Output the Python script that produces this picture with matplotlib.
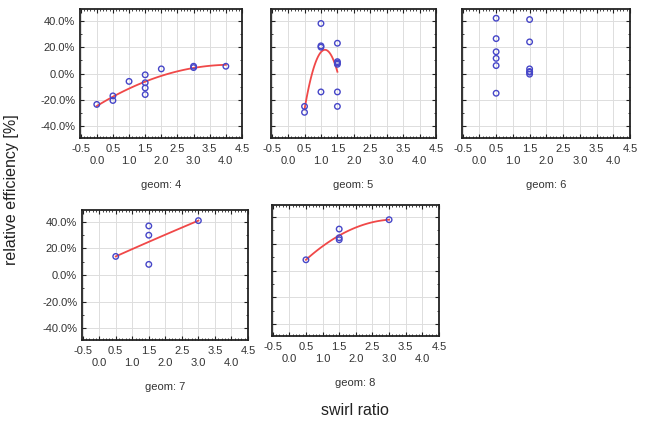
import numpy as np
import matplotlib
matplotlib.use("Agg")
import matplotlib.pyplot as plt
from matplotlib.ticker import MultipleLocator, FuncFormatter

plt.rcParams['font.family'] = ['Liberation Sans', 'DejaVu Sans']

# swirl ratio (x) and relative efficiency in % (y) per geometry
geom4_x = [0.0, 0.5, 0.5, 1.0, 1.5, 1.5, 1.5, 1.5, 2.0, 3.0, 3.0, 4.0]
geom4_y = [-23.5, -17, -20.5, -6, -1, -7, -11, -16, 3.5, 4.5, 5.5, 5.5]

geom5_x = [0.5, 0.5, 1.0, 1.0, 1.0, 1.0, 1.5, 1.5, 1.5, 1.5, 1.5, 1.5]
geom5_y = [-25, -29.5, 38, 21, 20, -14, 23, 9, 8, 7, -14, -25]

geom6_x = [0.5, 0.5, 0.5, 0.5, 0.5, 0.5, 1.5, 1.5, 1.5, 1.5, 1.5, 1.5]
geom6_y = [42, 26.5, 16.5, 11.5, 6, -15, 41, 24, 3.5, 1.5, -0.5, 1]

geom7_x = [0.5, 1.5, 1.5, 1.5, 3.0]
geom7_y = [14, 37, 30, 8, 41]

geom8_x = [0.5, 1.5, 1.5, 1.5, 3.0]
geom8_y = [8, 31, 24.5, 23, 38]

panels = [
    ("geom: 4", geom4_x, geom4_y, True, True),
    ("geom: 5", geom5_x, geom5_y, True, False),
    ("geom: 6", geom6_x, geom6_y, False, False),
    ("geom: 7", geom7_x, geom7_y, True, True),
    ("geom: 8", geom8_x, geom8_y, True, False),
]

W, H = 646, 423
# axes boxes in pixels: left, top, right, bottom
boxes = [
    (80, 9, 242, 138),
    (271, 9, 436, 138),
    (462, 9, 630, 138),
    (82, 210, 248, 340),
    (272, 205, 439, 336),
]

fig = plt.figure(figsize=(W / 100, H / 100), dpi=100)

xticks = np.arange(-0.5, 4.51, 0.5)
xlabels = []
for t in xticks:
    if abs(t - round(t)) < 1e-9:
        xlabels.append("\n%.1f" % t)
    else:
        xlabels.append("%.1f" % t)

for (title, xs, ys, fit, ylab), (l, t, r, b) in zip(panels, boxes):
    ax = fig.add_axes([l / W, 1 - b / H, (r - l) / W, (b - t) / H])
    ax.set_xlim(-0.52, 4.38)
    ax.set_ylim(-49, 49)
    ax.set_xticks(xticks)
    ax.set_xticklabels(xlabels, fontsize=8, color='#333333', linespacing=1.25)
    ax.set_yticks([-40, -20, 0, 20, 40])
    ax.xaxis.set_minor_locator(MultipleLocator(0.1))
    ax.yaxis.set_minor_locator(MultipleLocator(10))
    if ylab:
        ax.yaxis.set_major_formatter(FuncFormatter(lambda v, p: "%.1f%%" % v))
    else:
        ax.set_yticklabels([])
    ax.tick_params(axis='both', which='both', direction='in', top=True, right=True,
                   colors='#222222', labelcolor='#333333', labelsize=8)
    ax.tick_params(which='major', length=3, width=0.8)
    ax.tick_params(which='minor', length=1.5, width=0.6)
    ax.tick_params(axis='x', pad=4)
    ax.grid(True, which='major', color='#dddddd', linewidth=0.7)
    ax.set_axisbelow(True)
    for s in ax.spines.values():
        s.set_linewidth(1.3)
        s.set_color('#222222')

    if fit:
        c = np.polyfit(xs, ys, 2)
        xx = np.linspace(min(xs), max(xs), 100)
        ax.plot(xx, np.polyval(c, xx), color='#f04848', lw=1.3, zorder=3)
    ax.scatter(xs, ys, s=16, facecolors='none', edgecolors='#4646c8',
               linewidths=1.0, zorder=4)

    fig.text((l + r) / 2 / W, 1 - (b + 47) / H, title, ha='center', va='center',
             fontsize=8, color='#333333')

fig.text(12 / W, 1 - 190 / H, "relative efficiency [%]", rotation=90,
         ha='center', va='center', fontsize=11.5, color='#222222')
fig.text(355 / W, 1 - 410 / H, "swirl ratio", ha='center', va='center',
         fontsize=11.5, color='#222222')

fig.savefig("out.png", dpi=100)
